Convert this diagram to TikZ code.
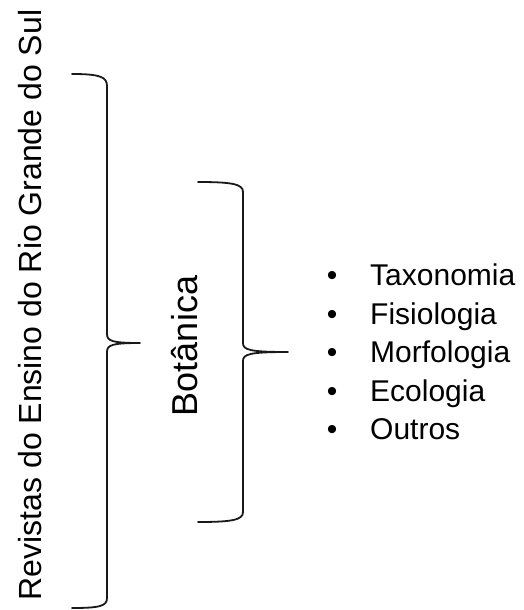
\documentclass[tikz,border=0pt]{standalone}
\usepackage{fontspec}
\setmainfont{Liberation Sans}
\begin{document}
\begin{tikzpicture}[x=1pt,y=-1pt,
  bracestyle/.style={draw=black!90, line width=1.8pt, line join=round, line cap=round},
  bigtext/.style={font=\fontsize{32}{38}\selectfont, inner sep=0pt, rotate=90},
  midtext/.style={font=\fontsize{36}{42}\selectfont, inner sep=0pt, rotate=90},
  itemtext/.style={font=\fontsize{30}{36}\selectfont, inner sep=0pt, anchor=base west},
  bulletmark/.style={font=\fontsize{30}{36}\selectfont, inner sep=0pt, anchor=base}]
\useasboundingbox (0,0) rectangle (524,610);
% big brace
\coordinate (bigtip) at (140,343);
\draw[bracestyle] (72,74) .. controls (100,74) and (107,77) .. (107,86)
  -- (107,334) .. controls (107,341) and (112,343) .. (bigtip)
  .. controls (112,343) and (107,345) .. (107,352)
  -- (107,598) .. controls (107,606) and (100,608) .. (72,608);
% small brace
\coordinate (smalltip) at (288,352);
\draw[bracestyle] (198,182) .. controls (232,182) and (243,184) .. (243,192)
  -- (243,343) .. controls (243,350) and (250,352) .. (smalltip)
  .. controls (250,352) and (243,354) .. (243,361)
  -- (243,512) .. controls (243,520) and (232,522) .. (198,522);
% texts
\node[bigtext] (revistas) at (30,305) {Revistas do Ensino do Rio Grande do Sul};
\node[midtext] (botanica) at (185,346) {Botânica};
\foreach \t/\yy [count=\i] in {Taxonomia/285.5, Fisiologia/324, Morfologia/362.5, Ecologia/401, Outros/439.5}{
  \node[bulletmark] (b\i) at (332,\yy) {•};
  \node[itemtext] (item\i) at (370,\yy) {\t};
}
\end{tikzpicture}
\end{document}
